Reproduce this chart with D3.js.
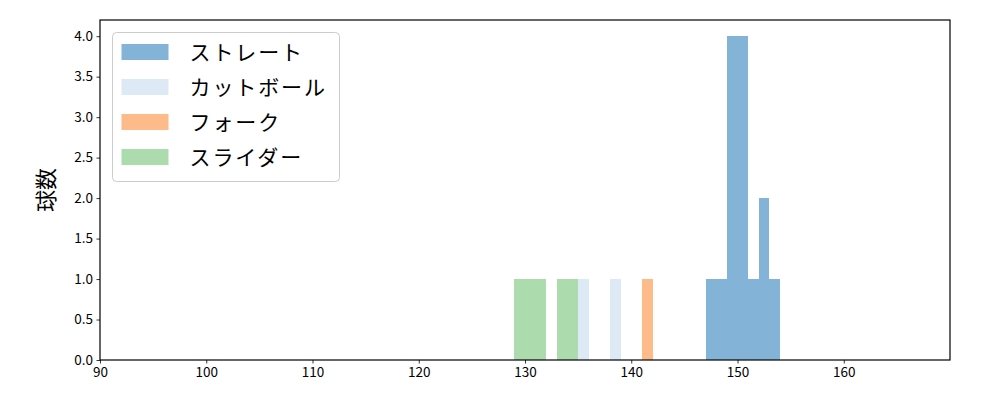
<!DOCTYPE html>
<html>
<head>
<meta charset="UTF-8">
<script src="https://d3js.org/d3.v7.min.js"></script>
<style>
  body { margin: 0; background: #fff; }
  text { font-family: "Noto Sans CJK JP", "Noto Sans", sans-serif; }
</style>
</head>
<body>
<script>
// pitch types, drawn in this order
var pitchNames = ['ストレート', 'カットボール', 'フォーク', 'スライダー'];
var pitchColors = ['#3182bd', '#c6dbef', '#fd8d3c', '#74c476'];

// histogram bins (left edge, km/h, width 1) and counts per pitch type
var straightBins = [147, 148, 149, 150, 151, 152, 153];
var straightCounts = [1, 1, 4, 4, 1, 2, 1];
var cutBins = [135, 138];
var cutCounts = [1, 1];
var forkBins = [141];
var forkCounts = [1];
var sliderBins = [129, 130, 131, 133, 134];
var sliderCounts = [1, 1, 1, 1, 1];

var xTicks = [90, 100, 110, 120, 130, 140, 150, 160];
var yTicks = [0, 0.5, 1, 1.5, 2, 2.5, 3, 3.5, 4];

var width = 1000, height = 400;
var margin = {left: 100, right: 50, top: 20, bottom: 40};

var svg = d3.select('body').append('svg')
  .attr('width', width).attr('height', height);

var x = d3.scaleLinear().domain([90, 170]).range([margin.left, width - margin.right]);
var y = d3.scaleLinear().domain([0, 4.2]).range([height - margin.bottom, margin.top]);

var series = [
  {bins: straightBins, counts: straightCounts},
  {bins: cutBins, counts: cutCounts},
  {bins: forkBins, counts: forkCounts},
  {bins: sliderBins, counts: sliderCounts}
];

series.forEach(function(s, i) {
  var rows = s.bins.map(function(b, j) { return {x0: b, x1: b + 1, n: s.counts[j]}; });
  svg.append('g').selectAll('rect')
    .data(rows)
    .join('rect')
    .attr('x', function(d) { return Math.round(x(d.x0)); })
    .attr('width', function(d) { return Math.round(x(d.x1)) - Math.round(x(d.x0)); })
    .attr('y', function(d) { return Math.round(y(d.n)); })
    .attr('height', function(d) { return Math.round(y(0)) - Math.round(y(d.n)); })
    .attr('fill', pitchColors[i])
    .attr('fill-opacity', 0.6)
    .attr('shape-rendering', 'crispEdges');
});

// axes
var xAxis = svg.append('g')
  .attr('transform', 'translate(0,' + (height - margin.bottom) + ')')
  .call(d3.axisBottom(x).tickValues(xTicks).tickSize(3.5).tickPadding(3.5).tickFormat(d3.format('d')));
var yAxis = svg.append('g')
  .attr('transform', 'translate(' + margin.left + ',0)')
  .call(d3.axisLeft(y).tickValues(yTicks).tickSize(3.5).tickPadding(3.5).tickFormat(d3.format('.1f')));
[xAxis, yAxis].forEach(function(a) {
  a.select('.domain').remove();
  a.selectAll('line').attr('stroke', '#000').attr('stroke-width', 0.8);
  a.selectAll('text').attr('font-size', 13.5).attr('fill', '#000')
    .style('font-family', '"Noto Sans CJK JP", sans-serif');
});

// frame
svg.append('rect')
  .attr('x', margin.left).attr('y', margin.top)
  .attr('width', width - margin.left - margin.right)
  .attr('height', height - margin.top - margin.bottom)
  .attr('fill', 'none').attr('stroke', '#000').attr('stroke-width', 1.2);

// y label
svg.append('text')
  .attr('transform', 'translate(54,' + ((margin.top + height - margin.bottom) / 2) + ') rotate(-90)')
  .attr('text-anchor', 'middle')
  .attr('font-size', 22)
  .text('球数');

// legend
var lg = svg.append('g').attr('transform', 'translate(112.5,32.5)');
lg.append('rect')
  .attr('width', 227).attr('height', 149).attr('rx', 4)
  .attr('fill', '#fff').attr('fill-opacity', 0.8)
  .attr('stroke', '#ccc').attr('stroke-width', 1);
pitchNames.forEach(function(name, i) {
  var cy = 19.5 + i * 35;
  lg.append('rect')
    .attr('x', 9).attr('y', cy - 8).attr('width', 47).attr('height', 16)
    .attr('fill', pitchColors[i]).attr('fill-opacity', 0.6);
  lg.append('text')
    .attr('x', 77).attr('y', cy).attr('dy', '0.36em')
    .attr('font-size', 21)
    .attr('letter-spacing', 1.9)
    .text(name);
});
</script>
</body>
</html>
